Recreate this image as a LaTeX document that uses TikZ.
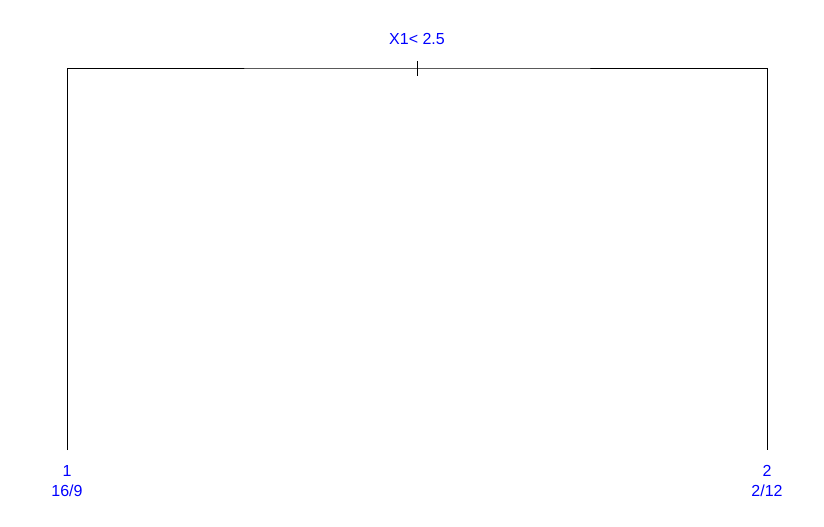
\documentclass[tikz,border=0pt]{standalone}
\usepackage{fontspec}
\setmainfont{Liberation Sans}
\begin{document}
\begin{tikzpicture}[x=0.75pt,y=-0.75pt,
  lbl/.style={text=blue,font=\fontsize{12}{14}\selectfont,inner sep=0pt,anchor=center},
  edge/.style={draw=black,line width=0.75pt}]
\useasboundingbox (0,0) rectangle (824,526);
\coordinate (root) at (417,68);
\coordinate (tickT) at (417,61);
\coordinate (tickB) at (417,76);
\coordinate (leafL) at (67,450);
\coordinate (leafR) at (767,450);
\draw[edge] (leafL) |- (root) -| (leafR);
\draw[edge] (tickT) -- (tickB);
\node[lbl] (split) at (417,39) {X1< 2.5};
\node[lbl] (l1a) at (67,471) {1};
\node[lbl] (l1b) at (67,491) {16/9};
\node[lbl] (l2a) at (767,471) {2};
\node[lbl] (l2b) at (767,491) {2/12};
\end{tikzpicture}
\end{document}
